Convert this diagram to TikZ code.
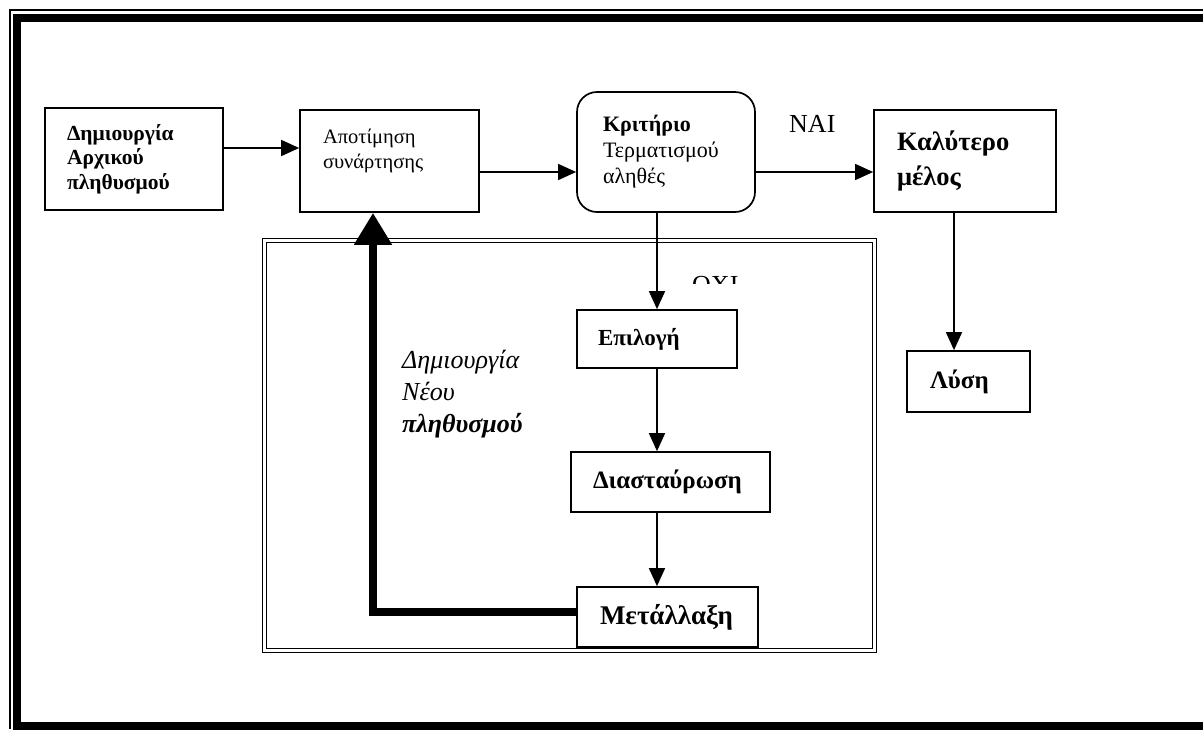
\documentclass[tikz,border=0pt]{standalone}
\usepackage{fontspec}
\setmainfont{Liberation Serif}
\usetikzlibrary{arrows.meta,calc}
\hyphenpenalty=10000
\exhyphenpenalty=10000
\begin{document}
\begin{tikzpicture}[x=1pt,y=-1pt,
  box/.style={draw, line width=1.7pt, align=left, inner ysep=0pt},
  arr/.style={line width=1.6pt, -{Triangle[length=18pt,width=16pt]}},
  bigarr/.style={line width=8pt, -{Triangle[length=32pt,width=36pt]}},
  lbl/.style={anchor=base west, inner sep=0pt}]
\useasboundingbox (0,0) rectangle (1203,729);
% outer frame
\draw[line width=2pt] (1203,9.5) -- (9.5,9.5) -- (9.5,729);
\draw[line width=8pt] (1203,17.5) -- (16.5,17.5) -- (16.5,725.5) -- (1203,725.5);
% inner double frame
\draw[line width=1.2pt, double distance=3pt] (264.5,240.5) rectangle (874.5,650.5);
% boxes
\node[box, text width=134pt, inner xsep=22pt, minimum height=102pt,
  font=\bfseries\fontsize{21.5}{24.5}\selectfont] (b1) at (134,159)
  {Δημιουργία\\Αρχικού\\πληθυσμού};
\node[box, text width=133pt, inner xsep=23pt, minimum height=102pt,
  font=\fontsize{20.5}{25}\selectfont] (b2) at (389.5,161)
  {Αποτίμηση\\συνάρτησης\\\mbox{}};
\node[box, rounded corners=20pt, text width=126pt, inner xsep=26pt, minimum height=120pt,
  font=\fontsize{22}{26}\selectfont] (b3) at (666,152)
  {\textbf{Κριτήριο}\\Τερματισμού\\αληθές};
\node[box, text width=136pt, inner xsep=23pt, minimum height=102pt,
  font=\bfseries\fontsize{26.5}{35}\selectfont] (b4) at (965,161)
  {Καλύτερο\\μέλος};
\node[box, text width=118pt, inner xsep=21pt, minimum height=58pt,
  font=\bfseries\fontsize{23}{27}\selectfont] (b5) at (657,339) {Επιλογή};
\node[box, text width=155pt, inner xsep=22pt, minimum height=60pt,
  font=\bfseries\fontsize{25}{29}\selectfont] (b6) at (670.5,482) {Διασταύρωση};
\node[box, text width=135pt, inner xsep=23pt, minimum height=60pt,
  font=\bfseries\fontsize{27}{31}\selectfont] (b7) at (667.5,617) {Μετάλλαξη};
\node[box, text width=77pt, inner xsep=23pt, minimum height=61pt,
  font=\bfseries\fontsize{25}{29}\selectfont] (b9) at (968.5,381.5) {Λύση};
% labels
\node[lbl, font=\fontsize{26}{30}\selectfont] (nai) at (789,132) {ΝΑΙ};
\begin{scope}
  \clip (680,255) rectangle (760,283.5);
  \node[lbl, font=\fontsize{26}{30}\selectfont] (oxi) at (692,293) {ΟΧΙ};
\end{scope}
\node[lbl, font=\itshape\fontsize{26}{30}\selectfont] (n1) at (402,368) {Δημιουργία};
\node[lbl, font=\itshape\fontsize{26}{30}\selectfont] (n2) at (402,400) {Νέου};
\node[lbl, font=\bfseries\itshape\fontsize{26}{30}\selectfont] (n3) at (402,432) {πληθυσμού};
% helper coordinates
\coordinate (y148) at (0,148);
\coordinate (y172) at (0,172);
\coordinate (y612) at (0,612);
\coordinate (x954) at (954,0);
\coordinate (x373) at (373,0);
% connectors
\draw[arr] (b1.east |- y148) -- (b2.west |- y148);
\draw[arr] (b2.east |- y172) -- (b3.west |- y172);
\draw[arr] (b3.east |- y172) -- (b4.west |- y172);
\draw[arr] (b4.south -| x954) -- (b9.north -| x954);
\draw[arr] (b3.south -| b5.north) -- (b5.north);
\draw[arr] (b5.south) -- (b6.north -| b5.south);
\draw[arr] (b6.south -| b5.south) -- (b7.north -| b5.south);
\draw[bigarr] (b7.west |- y612) -- (x373 |- y612) -- (b2.south -| x373);
\end{tikzpicture}
\end{document}
